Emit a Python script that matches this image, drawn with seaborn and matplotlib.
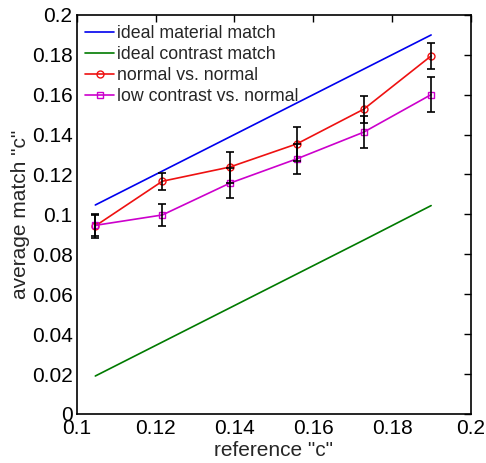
import matplotlib
matplotlib.use("Agg")
import matplotlib.pyplot as plt
import seaborn as sns
import numpy as np
import pandas as pd

# data
ref_c = [0.1047, 0.1217, 0.1388, 0.1558, 0.1728, 0.1899]
ideal_material = [0.1047, 0.1217, 0.1388, 0.1558, 0.1728, 0.1899]
ideal_contrast = [0.0190, 0.0360, 0.0531, 0.0701, 0.0871, 0.1044]
normal_vs_normal = [0.0942, 0.1166, 0.1237, 0.1353, 0.1527, 0.1794]
normal_err = [0.0060, 0.0043, 0.0078, 0.0084, 0.0067, 0.0067]
low_vs_normal = [0.0945, 0.0997, 0.1156, 0.1278, 0.1412, 0.1600]
low_err = [0.0052, 0.0053, 0.0076, 0.0077, 0.0080, 0.0087]
series_names = ["ideal material match", "ideal contrast match",
                "normal vs. normal", "low contrast vs. normal"]
x_ticks = [0.1, 0.12, 0.14, 0.16, 0.18, 0.2]
y_ticks = [0, 0.02, 0.04, 0.06, 0.08, 0.1, 0.12, 0.14, 0.16, 0.18, 0.2]

sns.set_style("white")
plt.rcParams['font.family'] = ['Liberation Sans', 'DejaVu Sans']

fig = plt.figure(figsize=(4.86, 4.63), dpi=100)
ax = fig.add_axes([0.158, 0.106, 0.811, 0.862])

df = pd.DataFrame({"x": ref_c, "m": ideal_material, "c": ideal_contrast,
                   "n": normal_vs_normal, "l": low_vs_normal})

sns.lineplot(data=df, x="x", y="m", ax=ax, color="#0000ee", lw=1.2,
             label=series_names[0])
sns.lineplot(data=df, x="x", y="c", ax=ax, color="#007a00", lw=1.2,
             label=series_names[1])
sns.lineplot(data=df, x="x", y="n", ax=ax, color="#ee1111", lw=1.2,
             marker="o", markersize=5, markerfacecolor="none",
             markeredgecolor="#ee1111", markeredgewidth=1.0,
             label=series_names[2])
sns.lineplot(data=df, x="x", y="l", ax=ax, color="#cc00cc", lw=1.2,
             marker="s", markersize=4.5, markerfacecolor="none",
             markeredgecolor="#cc00cc", markeredgewidth=1.0,
             label=series_names[3])

ax.errorbar(ref_c, normal_vs_normal, yerr=normal_err, fmt="none",
            ecolor="black", elinewidth=1.2, capsize=2.6, capthick=1.2, zorder=5)
ax.errorbar(ref_c, low_vs_normal, yerr=low_err, fmt="none",
            ecolor="black", elinewidth=1.2, capsize=2.6, capthick=1.2, zorder=5)

ax.set_xlim(0.1, 0.2)
ax.set_ylim(0, 0.2)
ax.set_xticks(x_ticks)
ax.set_yticks(y_ticks)
ax.set_xticklabels([f"{t:g}" for t in x_ticks])
ax.set_yticklabels([f"{t:g}" for t in y_ticks])
ax.tick_params(direction="in", length=5, width=1, labelsize=15,
               top=True, right=True, colors="black")
ax.tick_params(axis="x", pad=4)
ax.tick_params(axis="y", pad=3)
for s in ax.spines.values():
    s.set_visible(True)
    s.set_color("black")
    s.set_linewidth(1.2)

ax.set_xlabel('reference "c"', fontsize=15, labelpad=2)
ax.set_ylabel('average match "c"', fontsize=15, labelpad=1)

leg = ax.legend(loc="upper left", frameon=False, fontsize=12.8,
                handlelength=1.6, handletextpad=0.2, labelspacing=0.22,
                borderaxespad=0.2, bbox_to_anchor=(-0.005, 1.0))

fig.savefig("out.png", dpi=100)
